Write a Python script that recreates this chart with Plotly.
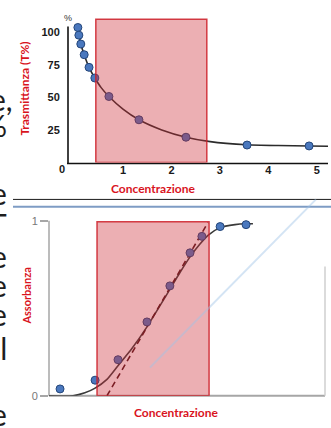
import plotly.graph_objects as go

W, H = 331, 428


def px(x):
    return x / W


def py(y):
    return 1 - y / H


# ---------------- Top chart: Trasmittanza vs Concentrazione ----------------
trans_conc = [0.07, 0.09, 0.13, 0.20, 0.30, 0.42, 0.71, 1.33, 2.30, 3.56, 4.84]
trans_pct = [103.7, 97.8, 91.0, 82.8, 73.1, 64.9, 50.7, 32.8, 19.4, 13.4, 12.7]
trans_curve_conc = [0.07, 0.13, 0.20, 0.30, 0.42, 0.55, 0.71, 1.00, 1.33, 1.80, 2.30, 2.80, 3.56, 4.20, 4.84, 5.23]
trans_curve_pct = [103.7, 91.0, 82.8, 73.1, 64.9, 57.5, 50.7, 41.0, 32.8, 25.0, 19.4, 16.0, 13.6, 13.0, 12.7, 12.5]
trans_band = [0.44, 2.73]
trans_band_top = 110
trans_yticks = [25, 50, 75, 100]
trans_xticks = [1, 2, 3, 4, 5]

# ---------------- Bottom chart: Assorbanza vs Concentrazione ----------------
abs_conc = [0.40, 1.67, 2.50, 3.55, 4.38, 5.11, 5.54, 6.20, 7.14]
abs_val = [0.039, 0.089, 0.206, 0.422, 0.628, 0.817, 0.911, 0.967, 0.978]
abs_curve_conc = [0.0, 0.87, 1.30, 1.67, 2.10, 2.50, 3.01, 3.55, 4.20, 4.75, 5.11, 5.47, 5.76, 6.20, 6.74, 7.14, 7.39]
abs_curve_val = [0.0, 0.0, 0.017, 0.044, 0.094, 0.172, 0.272, 0.394, 0.561, 0.706, 0.794, 0.867, 0.917, 0.961, 0.978, 0.983, 0.983]
abs_fit_conc = [2.10, 5.76]
abs_fit_val = [0.0, 0.99]
abs_band = [1.74, 5.80]
abs_band_top = 0.994
abs_yticks = [0, 1]

RED = "#D9141E"
BLUE = "#4A78BE"
BLUE_EDGE = "#24467A"
OVER_FILL = "rgba(205,45,55,0.38)"
OVER_LINE = "rgba(205,30,40,0.85)"

fig = go.Figure()

fig.add_trace(go.Scatter(
    x=trans_curve_conc, y=trans_curve_pct, mode="lines",
    line=dict(color="#2b2b2b", width=1.6, shape="spline", smoothing=0.6),
    xaxis="x", yaxis="y", hoverinfo="skip", cliponaxis=False))
fig.add_trace(go.Scatter(
    x=trans_conc, y=trans_pct, mode="markers",
    marker=dict(size=8, color=BLUE, line=dict(color=BLUE_EDGE, width=1)),
    xaxis="x", yaxis="y", cliponaxis=False))

fig.add_trace(go.Scatter(
    x=abs_curve_conc, y=abs_curve_val, mode="lines",
    line=dict(color="#3a3a3a", width=1.6, shape="spline", smoothing=0.6),
    xaxis="x2", yaxis="y2", hoverinfo="skip", cliponaxis=False))
fig.add_trace(go.Scatter(
    x=abs_fit_conc, y=abs_fit_val, mode="lines",
    line=dict(color="#4a1418", width=1.6, dash="6px,4px"),
    xaxis="x2", yaxis="y2", hoverinfo="skip", cliponaxis=False))
fig.add_trace(go.Scatter(
    x=abs_conc, y=abs_val, mode="markers",
    marker=dict(size=8, color=BLUE, line=dict(color=BLUE_EDGE, width=1)),
    xaxis="x2", yaxis="y2", cliponaxis=False))

shapes = []
# red overlay bands
shapes.append(dict(type="rect", xref="x", yref="y", x0=trans_band[0], x1=trans_band[1],
                   y0=0, y1=trans_band_top, fillcolor=OVER_FILL,
                   line=dict(color=OVER_LINE, width=1.5), layer="above"))
shapes.append(dict(type="rect", xref="x2", yref="y2", x0=abs_band[0], x1=abs_band[1],
                   y0=0, y1=abs_band_top, fillcolor=OVER_FILL,
                   line=dict(color=OVER_LINE, width=1.5), layer="above"))


def pline(x0, y0, x1, y1, color, width, layer="below"):
    shapes.append(dict(type="line", xref="paper", yref="paper",
                       x0=px(x0), y0=py(y0), x1=px(x1), y1=py(y1),
                       line=dict(color=color, width=width), layer=layer))


# top axes
pline(68, 21, 68, 162, "#111111", 1.6)
pline(67, 162, 328, 162, "#111111", 1.6)
# separator lines
pline(13, 199, 331, 199, "#1a1a1a", 1)
pline(13, 206.5, 331, 206.5, "#7E9CC4", 2)
# bottom axes
pline(49, 221, 49, 401, "#a6a6a6", 1.5)
pline(49, 401, 325, 401, "#a6a6a6", 2)
pline(325, 268, 325, 401, "#cfcfcf", 1.5)
# faint watermark diagonal
pline(316, 199, 150, 372, "rgba(160,195,230,0.45)", 2, layer="above")

ann = []


def text(x, y, s, size, color, bold=False, angle=0, xanchor="center", family="Lato"):
    ann.append(dict(xref="paper", yref="paper", x=px(x), y=py(y),
                    text=f"<b>{s}</b>" if bold else s, showarrow=False,
                    font=dict(size=size, color=color, family=family),
                    textangle=angle, xanchor=xanchor, yanchor="middle"))


text(68, 12, "%", 9, "#333333", family="Liberation Sans")
text(62, 168, "0", 11, "#1a1a1a", bold=True, family="Liberation Sans")
text(25, 85, "Trasmittanza (T%)", 12, RED, bold=True, angle=-90)
text(153, 188, "Concentrazione", 12, RED, bold=True)
text(27, 299, "Assorbanza", 11, RED, bold=True, angle=-90)
text(176, 418, "Concentrazione", 12, RED, bold=True)

# cut-off text fragments at the left edge
frags = [("e,", 15, 96), ("%", 9, 122), ("e", 9, 192), ("T", 9, 224), ("e", 9, 257),
         ("e", 9, 287), ("e", 9, 317), ("il", 9, 352), ("e", 9, 420)]
for s, xr, yc in frags:
    text(xr, yc, s, 30, "#1e1e1e", xanchor="right", family="Lato")

fig.update_layout(
    width=W, height=H, margin=dict(l=0, r=0, t=0, b=0),
    paper_bgcolor="white", plot_bgcolor="rgba(0,0,0,0)",
    showlegend=False, shapes=shapes, annotations=ann,
    xaxis=dict(domain=[px(68), px(328)], range=[-0.134, 5.23],
               tickvals=trans_xticks, ticktext=[f"<b>{v}</b>" for v in trans_xticks],
               ticks="",
               tickfont=dict(size=11, color="#1a1a1a", family="Liberation Sans"),
               showgrid=False, zeroline=False, showline=False, anchor="y"),
    yaxis=dict(domain=[py(161), py(11)], range=[0, 112],
               tickvals=trans_yticks, ticktext=[f"<b>{v}</b>" for v in trans_yticks],
               ticks="outside", ticklen=5, tickcolor="rgba(0,0,0,0)",
               tickfont=dict(size=11, color="#1a1a1a", family="Liberation Sans"),
               showgrid=False, zeroline=False, showline=False, anchor="x"),
    xaxis2=dict(domain=[px(49), px(325)], range=[0, 10], showticklabels=False,
                ticks="", showgrid=False, zeroline=False, showline=False, anchor="y2"),
    yaxis2=dict(domain=[py(401), py(221)], range=[0, 1],
                tickvals=abs_yticks, ticktext=[str(v) for v in abs_yticks],
                ticks="outside", ticklen=8, tickwidth=1.5, tickcolor="#a6a6a6",
                tickfont=dict(size=11, color="#777777", family="Liberation Sans"),
                showgrid=False, zeroline=False, showline=False, anchor="x2"),
)

fig.write_html(
    "out.html",
    config={"displayModeBar": False},
    post_script="document.body.style.margin='0';document.body.style.overflow='hidden';",
)
